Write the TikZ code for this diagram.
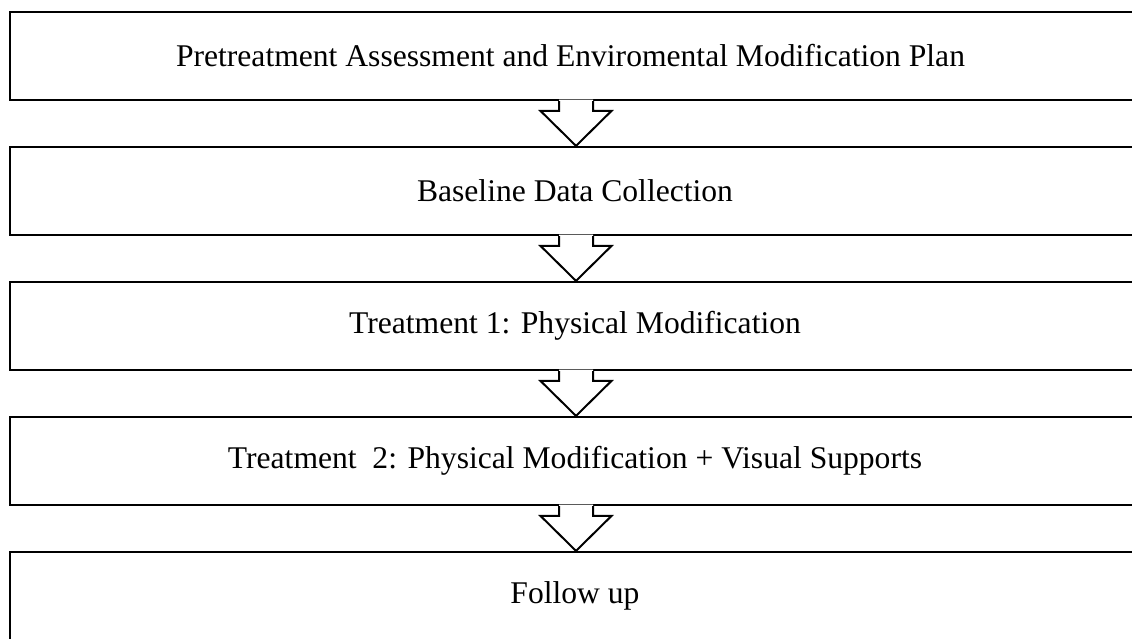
\documentclass[tikz,border=0pt]{standalone}
\usepackage{fontspec}
\setmainfont{Liberation Serif}
\usetikzlibrary{calc}
\tikzset{
  stagebox/.style={draw=black, line width=2.2pt, fill=white, minimum width=1130pt, minimum height=88pt,
    inner sep=0pt, font=\fontsize{31.6}{38}\selectfont},
  arrowline/.style={draw=black, line width=2pt, line join=miter}
}
\newcommand\blockarrow[2]{%
  \coordinate (t) at ([xshift=1pt]#1.south);
  \coordinate (p) at ([xshift=1pt]#2.north);
  \fill[white] ($(t)+(-17,1.5)$) -- ($(p)+(-17,35)$) -- ($(p)+(-35.5,35)$) -- (p) -- ($(p)+(35.5,35)$) -- ($(p)+(17,35)$) -- ($(t)+(17,1.5)$) -- cycle;
  \draw[arrowline] ($(t)+(-17,0)$) -- ($(p)+(-17,35)$) -- ($(p)+(-35.5,35)$) -- (p) -- ($(p)+(35.5,35)$) -- ($(p)+(17,35)$) -- ($(t)+(17,0)$);
}
\begin{document}
\begin{tikzpicture}[x=1pt,y=1pt]
\useasboundingbox (0,0) rectangle (1132,-639);
\clip (0,0) rectangle (1132,-639);
\fill[white] (0,0) rectangle (1132,-639);
\node[stagebox] (b1) at (575,-56) {Pretreatment Assessment and Enviromental Modification Plan\hspace*{9pt}};
\node[stagebox] (b2) at (575,-191) {Baseline Data Collection};
\node[stagebox] (b3) at (575,-326) {Treatment 1: Physical Modification};
\node[stagebox] (b4) at (575,-461) {Treatment\ \ 2: Physical Modification + Visual Supports};
\node[stagebox] (b5) at (575,-596) {Follow up};
\blockarrow{b1}{b2}
\blockarrow{b2}{b3}
\blockarrow{b3}{b4}
\blockarrow{b4}{b5}
\end{tikzpicture}
\end{document}
